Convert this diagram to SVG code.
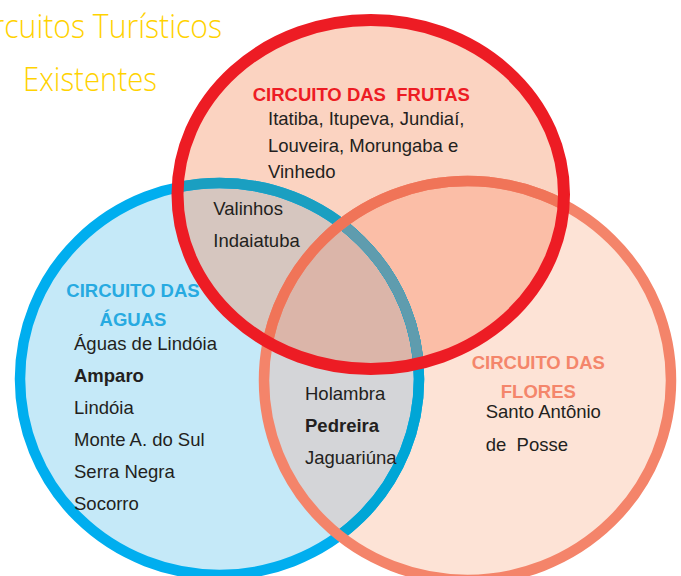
<svg xmlns="http://www.w3.org/2000/svg" width="681" height="576" viewBox="0 0 681 576">
  <style>
    .txt { font-family: "Liberation Sans", Arial, sans-serif; font-size: 18.5px; fill: #231f20; }
    .b { font-weight: bold; }
    .lbl { font-family: "Liberation Sans", Arial, sans-serif; font-size: 18.5px; font-weight: bold; }
    .title { font-family: "Open Sans", "Lato", sans-serif; font-weight: 300; font-size: 33px; fill: #ffd200; }
  </style>
  <defs>
    <ellipse id="eBlue" cx="219.5" cy="379" rx="199.5" ry="196"/>
    <ellipse id="eRed" cx="370.75" cy="194.5" rx="193.25" ry="174.5"/>
    <ellipse id="eFlo" cx="467.5" cy="380.5" rx="203.5" ry="199.5"/>
    <clipPath id="cBlue"><use href="#eBlue"/></clipPath>
    <clipPath id="cRed"><use href="#eRed"/></clipPath>
    <clipPath id="cFlo"><use href="#eFlo"/></clipPath>
  </defs>
  <rect width="681" height="576" fill="#ffffff"/>

  <g id="title">
    <text class="title" x="-33" y="38" textLength="255" lengthAdjust="spacingAndGlyphs">Circuitos Turísticos</text>
    <text class="title" x="23" y="91" textLength="134" lengthAdjust="spacingAndGlyphs">Existentes</text>
  </g>

  <g id="regions">
    <use href="#eBlue" fill="#c5e9f8"/>
    <use href="#eFlo" fill="#fde3d6"/>
    <use href="#eRed" fill="#fbd3c1"/>
    <use href="#eRed" fill="#d6c6bf" clip-path="url(#cBlue)"/>
    <use href="#eRed" fill="#fbbea7" clip-path="url(#cFlo)"/>
    <use href="#eFlo" fill="#d4d5d8" clip-path="url(#cBlue)"/>
    <g clip-path="url(#cFlo)"><use href="#eRed" fill="#dbb5a9" clip-path="url(#cBlue)"/></g>
  </g>

  <g id="aguas">
    <use href="#eBlue" fill="none" stroke="#00aeef" stroke-width="10.5"/>
    <use href="#eBlue" fill="none" stroke="#00a6d6" stroke-width="10.5" clip-path="url(#cFlo)"/>
    <use href="#eBlue" fill="none" stroke="#1a9fc1" stroke-width="10.5" clip-path="url(#cRed)"/>
    <g clip-path="url(#cFlo)"><use href="#eBlue" fill="none" stroke="#5f9cae" stroke-width="10.5" clip-path="url(#cRed)"/></g>
    <text class="lbl" x="133" y="297" text-anchor="middle" fill="#27aae1">CIRCUITO DAS</text>
    <text class="lbl" x="133" y="325.5" text-anchor="middle" fill="#27aae1">ÁGUAS</text>
    <text class="txt" x="74" y="350">Águas de Lindóia</text>
    <text class="txt b" x="74" y="382">Amparo</text>
    <text class="txt" x="74" y="414">Lindóia</text>
    <text class="txt" x="74" y="446">Monte A. do Sul</text>
    <text class="txt" x="74" y="478">Serra Negra</text>
    <text class="txt" x="74" y="510">Socorro</text>
  </g>

  <g id="flores">
    <use href="#eFlo" fill="none" stroke="#f4846a" stroke-width="10.5"/>
    <use href="#eFlo" fill="none" stroke="#f07458" stroke-width="10.5" clip-path="url(#cRed)"/>
    <text class="lbl" x="538.3" y="369" text-anchor="middle" fill="#f4866b">CIRCUITO DAS</text>
    <text class="lbl" x="538.3" y="397.5" text-anchor="middle" fill="#f4866b">FLORES</text>
    <text class="txt" x="485.7" y="418.3">Santo Antônio</text>
    <text class="txt" x="485.7" y="450.7" xml:space="preserve">de  Posse</text>
  </g>

  <g id="frutas">
    <use href="#eRed" fill="none" stroke="#ed1c24" stroke-width="12"/>
    <text class="lbl" x="252.7" y="100.5" fill="#ed1c24" xml:space="preserve">CIRCUITO DAS  FRUTAS</text>
    <text class="txt" x="268" y="125.3">Itatiba, Itupeva, Jundiaí,</text>
    <text class="txt" x="268" y="151.7">Louveira, Morungaba e</text>
    <text class="txt" x="268" y="178.3">Vinhedo</text>
  </g>

  <g id="aguas-frutas">
    <text class="txt" x="213.3" y="215">Valinhos</text>
    <text class="txt" x="213.3" y="247.3">Indaiatuba</text>
  </g>

  <g id="aguas-flores">
    <text class="txt" x="305" y="400">Holambra</text>
    <text class="txt b" x="305" y="432.3">Pedreira</text>
    <text class="txt" x="305" y="464">Jaguariúna</text>
  </g>
</svg>
